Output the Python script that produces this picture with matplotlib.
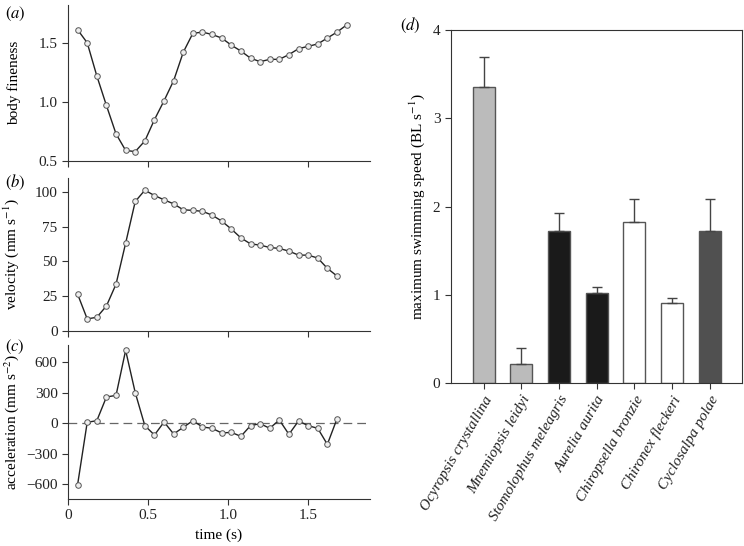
import numpy as np
import matplotlib
matplotlib.use('Agg')
import matplotlib.pyplot as plt

# data
t_fine = [0.06, 0.12, 0.18, 0.24, 0.30, 0.36, 0.42, 0.48, 0.54, 0.60, 0.66, 0.72, 0.78, 0.84, 0.90,
          0.96, 1.02, 1.08, 1.14, 1.20, 1.26, 1.32, 1.38, 1.44, 1.50, 1.56, 1.62, 1.68, 1.74]
fineness = [1.61, 1.50, 1.22, 0.97, 0.73, 0.59, 0.58, 0.67, 0.85, 1.01, 1.18, 1.42, 1.58, 1.59, 1.57,
            1.54, 1.48, 1.43, 1.37, 1.34, 1.36, 1.36, 1.40, 1.45, 1.47, 1.49, 1.54, 1.59, 1.65]
t_vel = t_fine[:28]
velocity = [26.4, 8.6, 9.8, 17.9, 33.6, 63.1, 93.1, 101.2, 97.4, 94.3, 91.4, 87.1, 86.7, 86.0,
            83.3, 79.0, 73.3, 66.9, 62.6, 61.7, 60.0, 59.3, 57.4, 54.5, 54.5, 52.4, 45.0, 39.5]
accel = [-603, 10, 26, 259, 275, 718, 302, -23, -115, 13, -105, -39, 26, -36,
         -49, -95, -89, -128, -23, -3, -49, 33, -108, 23, -23, -49, -207, 43]

species = ['Ocyropsis crystallina', 'Mnemiopsis leidyi', 'Stomolophus meleagris', 'Aurelia aurita',
           'Chiropsella bronzie', 'Chironex fleckeri', 'Cyclosalpa polae']
speed = [3.35, 0.21, 1.72, 1.02, 1.83, 0.91, 1.72]
speed_err = [0.35, 0.19, 0.21, 0.07, 0.26, 0.05, 0.37]
bar_colors = ['#bbbbbb', '#bbbbbb', '#1a1a1a', '#1a1a1a', '#ffffff', '#ffffff', '#505050']

plt.rcParams['font.family'] = ['Liberation Serif', 'DejaVu Serif']
plt.rcParams['mathtext.fontset'] = 'stix'
plt.rcParams['font.size'] = 11
plt.rcParams['axes.linewidth'] = 0.8
plt.rcParams['axes.edgecolor'] = '#333333'
plt.rcParams['xtick.color'] = '#333333'
plt.rcParams['ytick.color'] = '#333333'
plt.rcParams['xtick.labelcolor'] = '#222222'
plt.rcParams['ytick.labelcolor'] = '#222222'
plt.rcParams['xtick.major.size'] = 4
plt.rcParams['ytick.major.size'] = 4

fig = plt.figure(figsize=(7.44, 5.46), dpi=100)

L, R = 0.0914, 0.497
ax_a = fig.add_axes([L, 0.705, R - L, 0.991 - 0.705])
ax_b = fig.add_axes([L, 0.394, R - L, 0.674 - 0.394])
ax_c = fig.add_axes([L, 0.086, R - L, 0.368 - 0.086])
ax_d = fig.add_axes([0.606, 0.2985, 0.997 - 0.606, 0.945 - 0.2985])

line_kw = dict(color='#222222', lw=1.0, marker='o', ms=4, mfc='#eeeeee', mec='#555555', mew=0.7)

for ax in (ax_a, ax_b, ax_c):
    ax.spines['top'].set_visible(False)
    ax.spines['right'].set_visible(False)
    ax.set_xlim(0, 1.885)
    ax.set_xticks([0, 0.5, 1.0, 1.5])

ax_a.plot(t_fine, fineness, **line_kw)
ax_a.set_ylim(0.5, 1.82)
ax_a.set_yticks([0.5, 1.0, 1.5])
ax_a.set_yticklabels(['0.5', '1.0', '1.5'])
ax_a.set_xticklabels([])
ax_a.set_ylabel('body fineness')

ax_b.plot(t_vel, velocity, **line_kw)
ax_b.set_ylim(0, 110)
ax_b.set_yticks([0, 25, 50, 75, 100])
ax_b.set_xticklabels([])
ax_b.set_ylabel('velocity (mm s$^{-1}$)')

ax_c.axhline(0, color='#666666', lw=0.9, dashes=(7, 4))
ax_c.plot(t_vel, accel, **line_kw)
ax_c.set_ylim(-745, 770)
ax_c.set_yticks([-600, -300, 0, 300, 600])
ax_c.set_yticklabels(['\u2212600', '\u2212300', '0', '300', '600'])
ax_c.set_xticklabels(['0', '0.5', '1.0', '1.5'])
ax_c.set_ylabel('acceleration (mm s$^{-2}$)')
ax_c.set_xlabel('time (s)')

for ax in (ax_a, ax_b, ax_c):
    ax.yaxis.set_label_coords(-0.155, 0.5)

fig.text(0.007, 0.975, '$(a)$', fontsize=12, va='center')
fig.text(0.007, 0.665, '$(b)$', fontsize=12, va='center')
fig.text(0.007, 0.365, '$(c)$', fontsize=12, va='center')
fig.text(0.538, 0.953, '$(d)$', fontsize=12, va='center')

x = np.arange(len(species))
ax_d.bar(x, speed, width=0.59, color=bar_colors, edgecolor='#555555', linewidth=1.0,
         yerr=[np.zeros(len(speed)), speed_err], capsize=3.3,
         error_kw=dict(ecolor='#444444', elinewidth=1.0, capthick=1.0))
ax_d.set_xlim(-0.87, 6.85)
ax_d.set_ylim(0, 4)
ax_d.set_yticks([0, 1, 2, 3, 4])
ax_d.set_xticks(x)
ax_d.set_xticklabels(species, rotation=60, ha='right', rotation_mode='anchor', style='italic')
ax_d.set_ylabel('maximum swimming speed (BL s$^{-1}$)')

fig.savefig('out.png', dpi=100)
